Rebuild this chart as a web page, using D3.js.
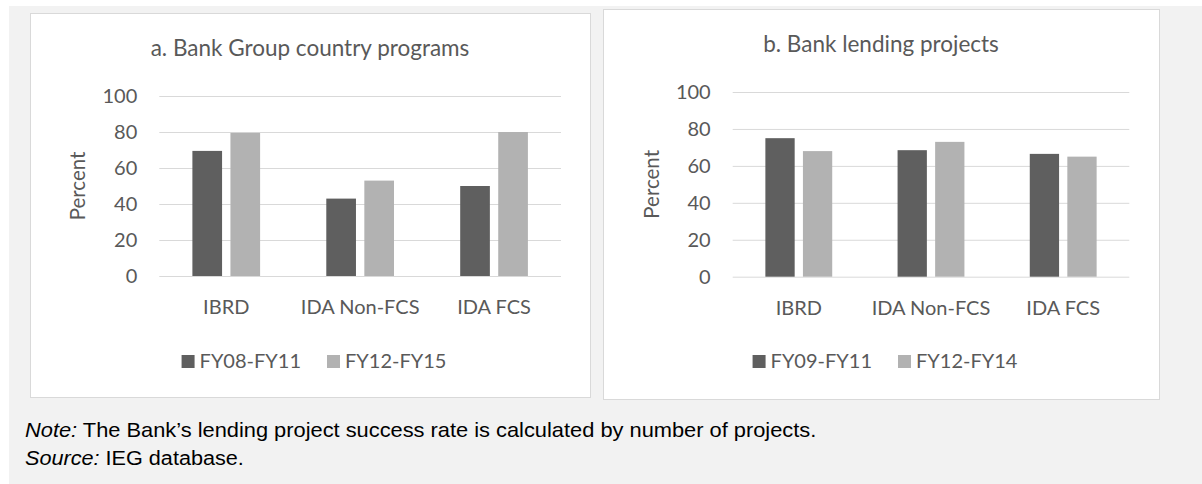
<!DOCTYPE html>
<html>
<head>
<meta charset="utf-8">
<title>Success rates</title>
<style>
  *{margin:0;padding:0;}
  body{background:#fff;}
  svg{display:block;}
</style>
</head>
<body>
<svg id="chart" width="1202" height="484"></svg>
<script src="https://cdn.jsdelivr.net/npm/d3@7/dist/d3.min.js"></script>
<script>
// data
var categories = ["IBRD", "IDA Non-FCS", "IDA FCS"];
var yTicks = [0, 20, 40, 60, 80, 100];

var titleA = "a. Bank Group country programs";
var seriesA = ["FY08-FY11", "FY12-FY15"];
var valuesA1 = [69.5, 43, 50];     // FY08-FY11
var valuesA2 = [79.5, 53, 80];     // FY12-FY15

var titleB = "b. Bank lending projects";
var seriesB = ["FY09-FY11", "FY12-FY14"];
var valuesB1 = [75, 68.5, 66.5];   // FY09-FY11
var valuesB2 = [68, 73, 65];       // FY12-FY14

var colors = ["#5f5f5f", "#b2b2b2"];
var textColor = "#595959";
var chartFont = "Lato, 'Open Sans', sans-serif";

var svg = d3.select("#chart");

// grey page background
svg.append("rect")
  .attr("x", 9).attr("y", 6)
  .attr("width", 1202 - 9).attr("height", 484 - 6)
  .attr("fill", "#f2f2f2");

function drawPanel(p) {
  var g = svg.append("g");

  g.append("rect")
    .attr("x", p.box[0] + 0.5).attr("y", p.box[1] + 0.5)
    .attr("width", p.box[2] - p.box[0]).attr("height", p.box[3] - p.box[1])
    .attr("fill", "#fff").attr("stroke", "#d9d9d9").attr("stroke-width", 1);

  var cx = (p.box[0] + p.box[2]) / 2;

  g.append("text")
    .attr("x", cx).attr("y", p.titleY)
    .attr("text-anchor", "middle")
    .attr("font-family", chartFont).attr("font-size", 22.5)
    .attr("fill", textColor)
    .text(p.title);

  var y = d3.scaleLinear().domain([0, 100]).range([p.y0, p.y100]);
  var x0 = d3.scaleBand().domain(categories).range([p.xl, p.xr]).padding(0);
  var x1 = d3.scaleBand().domain(p.series).range([0, x0.bandwidth()])
    .paddingInner(0.22).paddingOuter(0.87);

  // y axis with gridlines
  var yAxis = g.append("g")
    .attr("transform", "translate(" + p.xl + ",0)")
    .call(d3.axisLeft(y).tickValues(yTicks).tickSize(-(p.xr - p.xl)).tickPadding(22));
  yAxis.select(".domain").remove();
  yAxis.selectAll(".tick line").attr("stroke", "#d9d9d9").attr("stroke-width", 1);
  yAxis.selectAll(".tick text")
    .attr("font-family", chartFont).attr("font-size", 20)
    .attr("fill", textColor);

  // bars
  var rows = categories.map(function (c, i) {
    return { cat: c, vals: p.series.map(function (s, j) { return { s: s, j: j, v: p.values[j][i] }; }) };
  });
  var groups = g.selectAll(".grp").data(rows).enter().append("g")
    .attr("transform", function (d) { return "translate(" + x0(d.cat) + ",0)"; });
  groups.selectAll("rect").data(function (d) { return d.vals; }).enter().append("rect")
    .attr("x", function (d) { return x1(d.s); })
    .attr("y", function (d) { return y(d.v); })
    .attr("width", x1.bandwidth())
    .attr("height", function (d) { return y(0) - y(d.v); })
    .attr("fill", function (d) { return colors[d.j]; });

  // category labels
  g.selectAll(".cat").data(categories).enter().append("text")
    .attr("x", function (d) { return x0(d) + x0.bandwidth() / 2; })
    .attr("y", p.y0 + 38)
    .attr("text-anchor", "middle")
    .attr("font-family", chartFont).attr("font-size", 20)
    .attr("fill", textColor)
    .text(function (d) { return d; });

  // axis title
  g.append("text")
    .attr("transform", "translate(" + p.axisTitleX + "," + ((p.y0 + p.y100) / 2) + ") rotate(-90)")
    .attr("text-anchor", "middle")
    .attr("font-family", chartFont).attr("font-size", 20.5)
    .attr("fill", textColor)
    .text("Percent");

  // legend
  var lg = g.append("g");
  var xPos = 0;
  p.series.forEach(function (s, j) {
    lg.append("rect")
      .attr("x", xPos).attr("y", p.legendY - 13)
      .attr("width", 13).attr("height", 13)
      .attr("fill", colors[j]);
    var t = lg.append("text")
      .attr("x", xPos + 18).attr("y", p.legendY)
      .attr("font-family", chartFont).attr("font-size", 20)
      .attr("fill", textColor)
      .text(s);
    xPos += 18 + t.node().getComputedTextLength() + 26;
  });
  var lw = xPos - 26;
  lg.attr("transform", "translate(" + (cx + 4 - lw / 2) + ",0)");
}

drawPanel({
  box: [30, 13, 590, 397], title: titleA, titleY: 56,
  series: seriesA, values: [valuesA1, valuesA2],
  xl: 159.3, xr: 561, y0: 276, y100: 96,
  axisTitleX: 85, legendY: 368
});

drawPanel({
  box: [603, 9, 1159, 399], title: titleB, titleY: 52,
  series: seriesB, values: [valuesB1, valuesB2],
  xl: 732.7, xr: 1129.3, y0: 276.7, y100: 92,
  axisTitleX: 659, legendY: 368
});

// note and source
var noteFont = "'Liberation Sans Narrow', 'Arial Narrow', 'Liberation Sans', Arial, sans-serif";
var note = svg.append("text")
  .attr("x", 25).attr("y", 437)
  .attr("font-family", noteFont).attr("font-size", 21)
  .attr("fill", "#000");
note.append("tspan").attr("font-style", "italic").text("Note:");
note.append("tspan").text(" The Bank\u2019s lending project success rate is calculated by number of projects.");

var src = svg.append("text")
  .attr("x", 25).attr("y", 465)
  .attr("font-family", noteFont).attr("font-size", 21)
  .attr("fill", "#000");
src.append("tspan").attr("font-style", "italic").text("Source:");
src.append("tspan").text(" IEG database.");

// squeeze to the narrow width of the original
[[note, 792], [src, 219]].forEach(function (a) {
  var w = a[0].node().getComputedTextLength();
  var k = a[1] / w;
  a[0].attr("transform", "translate(25,0) scale(" + k + ",1) translate(-25,0)");
});
</script>
</body>
</html>
